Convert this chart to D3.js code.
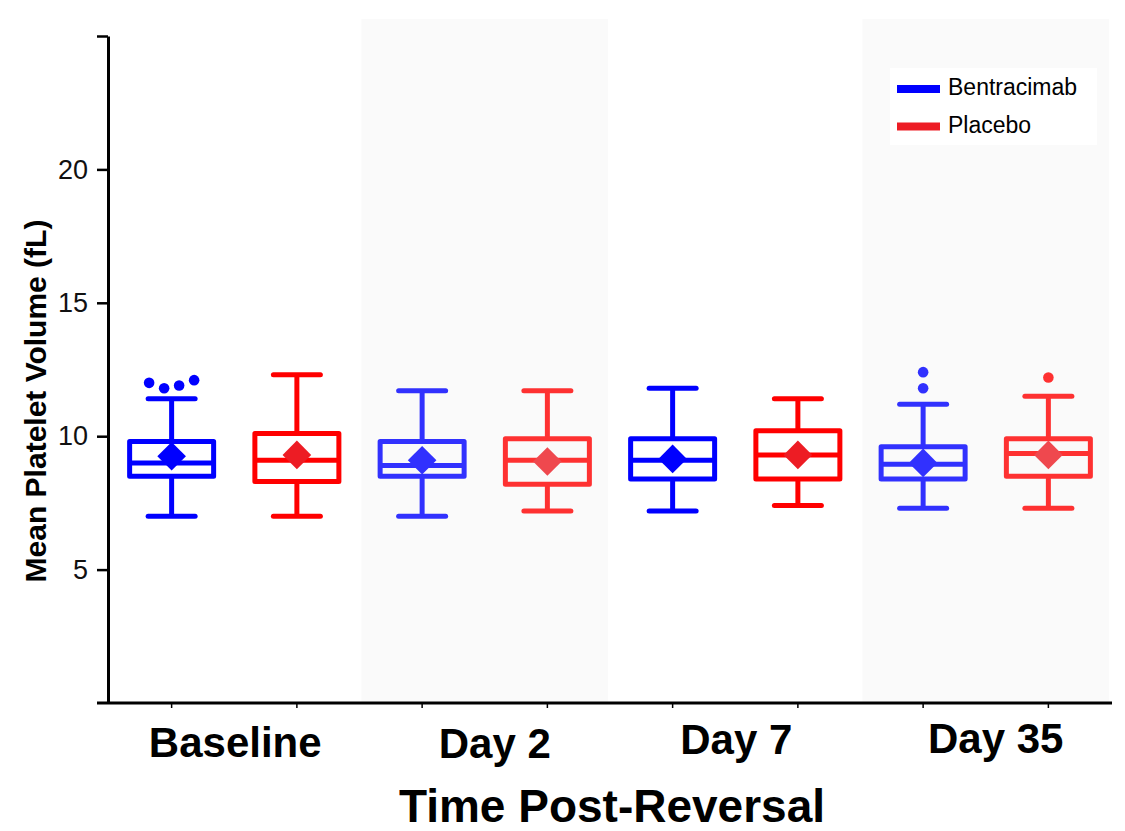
<!DOCTYPE html>
<html>
<head>
<meta charset="utf-8">
<script src="https://cdn.jsdelivr.net/npm/d3@7"></script>
<style>
  html, body { margin: 0; padding: 0; background: #ffffff; }
  svg { display: block; font-family: "Liberation Sans", Arial, sans-serif; }
</style>
</head>
<body>
<svg id="chart" width="1125" height="831"></svg>
<script>
// Time points and treatment arms
const groups = ["Baseline", "Day 2", "Day 7", "Day 35"];
const series = ["Bentracimab", "Placebo"];
const shadedGroups = ["Day 2", "Day 35"];
const yTicks = [5, 10, 15, 20, 25];

// Mean platelet volume (fL), box-plot summaries per time point
const bentracimabLow    = [7.0, 7.0, 7.2, 7.3];
const bentracimabQ1     = [8.5, 8.5, 8.4, 8.4];
const bentracimabMedian = [9.0, 8.9, 9.1, 8.95];
const bentracimabQ3     = [9.8, 9.8, 9.9, 9.6];
const bentracimabHigh   = [11.4, 11.7, 11.8, 11.2];
const bentracimabMean   = [9.25, 9.1, 9.15, 9.0];
const bentracimabOutliers = [[12.0, 11.8, 11.9, 12.1], [], [], [12.4, 11.8]];

const placeboLow    = [7.0, 7.2, 7.4, 7.3];
const placeboQ1     = [8.3, 8.2, 8.4, 8.5];
const placeboMedian = [9.1, 9.1, 9.3, 9.35];
const placeboQ3     = [10.1, 9.9, 10.2, 9.9];
const placeboHigh   = [12.3, 11.7, 11.4, 11.5];
const placeboMean   = [9.3, 9.05, 9.3, 9.3];
const placeboOutliers = [[], [], [], [12.2]];

// Build one record per box
const stats = {
  "Bentracimab": { low: bentracimabLow, q1: bentracimabQ1, med: bentracimabMedian, q3: bentracimabQ3, high: bentracimabHigh, mean: bentracimabMean, out: bentracimabOutliers },
  "Placebo":     { low: placeboLow, q1: placeboQ1, med: placeboMedian, q3: placeboQ3, high: placeboHigh, mean: placeboMean, out: placeboOutliers }
};
const boxes = [];
groups.forEach((g, gi) => {
  series.forEach(s => {
    const t = stats[s];
    boxes.push({ group: g, series: s, low: t.low[gi], q1: t.q1[gi], med: t.med[gi],
                 q3: t.q3[gi], high: t.high[gi], mean: t.mean[gi], out: t.out[gi] });
  });
});

// Styling
const lineColor = { "Bentracimab": "#0000ff", "Placebo": "#ff0000" };
const meanColor = { "Bentracimab": "#0000ff", "Placebo": "#ed1c24" };
const legendColor = { "Bentracimab": "#0000ff", "Placebo": "#ed1c24" };
const labelNudge = { "Baseline": [1, 0], "Day 2": [10, 1], "Day 7": [1, -3], "Day 35": [10, -4] };

const svg = d3.select("#chart");

const y = d3.scaleLinear().domain([0, 25]).range([703, 36]);
const x0 = d3.scaleBand().domain(groups).range([109, 1111]).padding(0);
const x1 = d3.scaleBand().domain(series).range([0, x0.bandwidth()]).padding(0);
const cx = d => x0(d.group) + x1(d.series) + x1.bandwidth() / 2;

const boxW = 84, capW = 47, sw = 5;

// Shaded time-point bands
svg.append("g").selectAll("rect")
  .data(shadedGroups)
  .join("rect")
  .attr("x", g => x0(g) + 2)
  .attr("y", 19)
  .attr("width", x0.bandwidth() - 4)
  .attr("height", y(0) - 19)
  .attr("fill", "#fafafa");

// Boxes
const bx = svg.append("g").selectAll("g")
  .data(boxes)
  .join("g")
  .attr("opacity", d => shadedGroups.includes(d.group) ? 0.8 : 1)
  .attr("stroke", d => lineColor[d.series])
  .attr("stroke-width", sw)
  .attr("fill", "none");

// whiskers
bx.append("line")
  .attr("x1", cx).attr("x2", cx)
  .attr("y1", d => y(d.high)).attr("y2", d => y(d.q3));
bx.append("line")
  .attr("x1", cx).attr("x2", cx)
  .attr("y1", d => y(d.q1)).attr("y2", d => y(d.low));
// caps
bx.append("line")
  .attr("stroke-linecap", "round")
  .attr("x1", d => cx(d) - capW / 2).attr("x2", d => cx(d) + capW / 2)
  .attr("y1", d => y(d.high)).attr("y2", d => y(d.high));
bx.append("line")
  .attr("stroke-linecap", "round")
  .attr("x1", d => cx(d) - capW / 2).attr("x2", d => cx(d) + capW / 2)
  .attr("y1", d => y(d.low)).attr("y2", d => y(d.low));
// box
bx.append("rect")
  .attr("stroke-linejoin", "round")
  .attr("x", d => cx(d) - boxW / 2)
  .attr("y", d => y(d.q3))
  .attr("width", boxW)
  .attr("height", d => y(d.q1) - y(d.q3));
// median
bx.append("line")
  .attr("x1", d => cx(d) - boxW / 2).attr("x2", d => cx(d) + boxW / 2)
  .attr("y1", d => y(d.med)).attr("y2", d => y(d.med));
// mean diamond
const dm = 14.3;
bx.append("path")
  .attr("stroke", "none")
  .attr("fill", d => meanColor[d.series])
  .attr("d", d => {
    const px = cx(d), py = y(d.mean);
    return `M${px},${py - dm}L${px + dm},${py}L${px},${py + dm}L${px - dm},${py}Z`;
  });
// outliers
bx.each(function(d) {
  const n = d.out.length;
  const spread = n > 2 ? 15 : 0;
  d3.select(this).selectAll("circle")
    .data(d.out)
    .join("circle")
    .attr("stroke", "none")
    .attr("fill", lineColor[d.series])
    .attr("cx", (v, i) => cx(d) + (i - (n - 1) / 2) * spread)
    .attr("cy", v => y(v))
    .attr("r", 5.3);
});

// Y axis
const yAxis = svg.append("g")
  .attr("transform", "translate(108,0)")
  .call(d3.axisLeft(y).tickValues(yTicks)
    .tickFormat(v => v === 25 ? "" : v)
    .tickSize(11).tickSizeOuter(0).tickPadding(9));
yAxis.select(".domain").attr("stroke", "#000").attr("stroke-width", 3);
yAxis.selectAll(".tick line").attr("stroke", "#000").attr("stroke-width", 2.5);
yAxis.selectAll(".tick text")
  .attr("font-family", "Liberation Sans, Arial, sans-serif")
  .attr("font-size", 27)
  .attr("fill", "#111");

// X axis line and ticks at each box
svg.append("line")
  .attr("x1", 97).attr("x2", 1112)
  .attr("y1", y(0)).attr("y2", y(0))
  .attr("stroke", "#000").attr("stroke-width", 3);
svg.append("g").selectAll("line")
  .data(boxes)
  .join("line")
  .attr("x1", cx).attr("x2", cx)
  .attr("y1", y(0)).attr("y2", y(0) + 5)
  .attr("stroke", "#000").attr("stroke-width", 1.5);

// Category labels
svg.append("g").selectAll("text")
  .data(groups)
  .join("text")
  .attr("x", g => x0(g) + x0.bandwidth() / 2 + labelNudge[g][0])
  .attr("y", g => 757 + labelNudge[g][1])
  .attr("text-anchor", "middle")
  .attr("font-weight", "bold")
  .attr("font-size", 42)
  .attr("fill", "#000")
  .text(g => g);

// Axis titles
svg.append("text")
  .attr("x", 612).attr("y", 822)
  .attr("text-anchor", "middle")
  .attr("font-weight", "bold")
  .attr("font-size", 46)
  .attr("fill", "#000")
  .text("Time Post-Reversal");

svg.append("text")
  .attr("transform", "translate(46,401) rotate(-90)")
  .attr("text-anchor", "middle")
  .attr("font-weight", "bold")
  .attr("font-size", 30)
  .attr("fill", "#000")
  .text("Mean Platelet Volume (fL)");

// Legend
const legend = svg.append("g");
legend.append("rect")
  .attr("x", 890).attr("y", 68).attr("width", 207).attr("height", 77)
  .attr("fill", "#ffffff");
const li = legend.selectAll("g.item")
  .data(series)
  .join("g")
  .attr("class", "item")
  .attr("transform", (s, i) => `translate(0,${89 + i * 37.5})`);
li.append("line")
  .attr("x1", 897).attr("x2", 940)
  .attr("stroke", s => legendColor[s])
  .attr("stroke-width", 8);
li.append("text")
  .attr("x", 948).attr("y", 6)
  .attr("font-size", 23)
  .attr("fill", "#000")
  .text(s => s);
</script>
</body>
</html>
